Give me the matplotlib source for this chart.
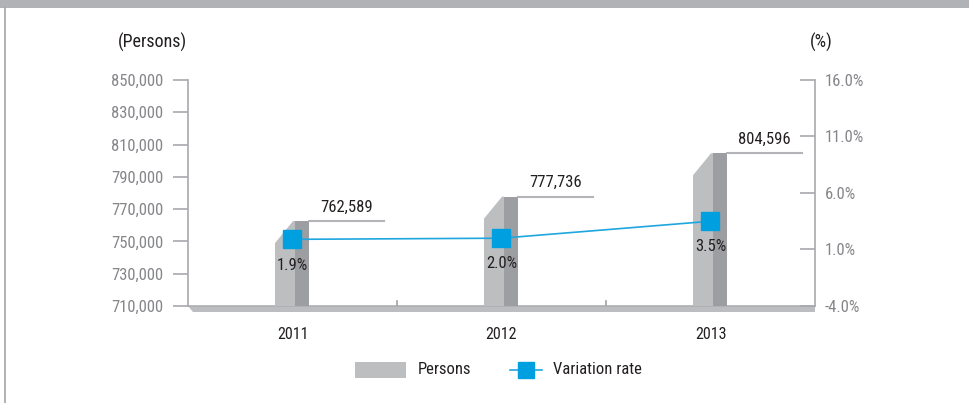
import matplotlib
matplotlib.use("Agg")
import matplotlib.pyplot as plt
from matplotlib import font_manager
from matplotlib.patches import Polygon, Rectangle
from matplotlib.lines import Line2D

# ---- data ----
years = ["2011", "2012", "2013"]
persons = [762589, 777736, 804596]
rates = [1.9, 2.0, 3.5]
left_ticks = [710000, 730000, 750000, 770000, 790000, 810000, 830000, 850000]
right_ticks = [-4.0, 1.0, 6.0, 11.0, 16.0]

# ---- font ----
font = "DejaVu Sans"
for cand in ["Liberation Sans Narrow", "DejaVu Sans Condensed", "Roboto Condensed", "Open Sans Condensed"]:
    try:
        font_manager.findfont(font_manager.FontProperties(family=cand), fallback_to_default=False)
        font = cand
        break
    except Exception:
        pass
plt.rcParams['font.family'] = [font, 'DejaVu Sans']

W, H = 969, 403
fig = plt.figure(figsize=(W / 100, H / 100), dpi=100)

def fx(px):
    return px / W

def fy(py):
    return 1 - py / H

# frame decoration
fig.patches.append(Rectangle((0, fy(8)), 1, 8 / H, transform=fig.transFigure,
                             facecolor="#b1b2b6", edgecolor="none"))
fig.lines.append(Line2D([fx(4.5), fx(4.5)], [0, fy(8)], transform=fig.transFigure,
                        color="#a3a4a8", lw=1.2))

ax = fig.add_axes([fx(188), fy(306), (815 - 188) / W, (306 - 80) / H])
ax.set_xlim(-0.5, 2.5)
ax.set_ylim(710000, 850000)
ax2 = ax.twinx()
ax2.set_ylim(-4, 16)

gray_axis = "#a8a9ad"
for a in (ax, ax2):
    for s in a.spines.values():
        s.set_visible(False)
ax.spines['left'].set_visible(True)
ax.spines['left'].set_color(gray_axis)
ax.spines['left'].set_linewidth(1.2)
ax2.spines['right'].set_visible(True)
ax2.spines['right'].set_color(gray_axis)
ax2.spines['right'].set_linewidth(1.2)

ax.set_yticks(left_ticks)
ax.set_yticklabels([f"{v:,}" for v in left_ticks])
ax.tick_params(axis='y', direction='out', length=10.8, width=1.2, color=gray_axis,
               pad=7, labelcolor="#85868a", labelsize=12)
ax2.set_yticks(right_ticks)
ax2.set_yticklabels([f"{v:.1f}%" for v in right_ticks])
ax2.tick_params(axis='y', direction='in', length=10.8, width=1.2, color=gray_axis,
                pad=7, labelcolor="#85868a", labelsize=12)
ax.set_xticks(range(len(years)))
ax.set_xticklabels(years)
ax.tick_params(axis='x', length=0, pad=15, labelcolor="#231f20", labelsize=11.5)

ppx = 1 / 209.0           # data x units per pixel
ppy = 140000 / 226.0      # data y units per pixel
base = 710000

# floor
floor = Polygon([(-0.5, base), (2.5, base), (2.5, base - 6 * ppy),
                 (-0.5 + 5 * ppx, base - 6 * ppy)], closed=True,
                facecolor="#bcbdc0", edgecolor="none", clip_on=False, zorder=1)
ax.add_patch(floor)
ax.plot([-0.5, 2.5], [base, base], color="#aeafb2", lw=1.2, clip_on=False, zorder=1.5)
for b in (0.5, 1.5):
    ax.plot([b, b], [base, base + 5 * ppy], color="#a0a1a5", lw=1.2, zorder=1.5)

# pseudo-3D bars
for i, v in enumerate(persons):
    xl = i - 17.5 * ppx
    xm = i + 2.5 * ppx
    xr = i + 16.5 * ppx
    front = Polygon([(xl, base), (xl, v - 22 * ppy), (xm - 2 * ppx, v), (xm, v), (xm, base)],
                    closed=True, facecolor="#bdbec0", edgecolor="none", zorder=2)
    side = Polygon([(xm, base), (xm, v), (xr, v), (xr, base)],
                   closed=True, facecolor="#9d9ea2", edgecolor="none", zorder=2)
    ax.add_patch(front)
    ax.add_patch(side)
    ax.plot([xr, xr + 75 * ppx], [v, v], color="#b3b4b7", lw=1.5, zorder=2)
    ax.annotate(f"{v:,}", (i + 54 * ppx, v), xytext=(0, 10), textcoords="offset points",
                ha="center", va="center", fontsize=12, color="#231f20")

# variation rate line
ax2.plot(range(len(rates)), rates, color="#1ea6df", lw=1.2, marker="s", ms=12.5,
         mfc="#00a0e0", mec="#00a0e0", zorder=5)
for i, r in enumerate(rates):
    ax2.annotate(f"{r:.1f}%", (i, r), xytext=(0, -18.5), textcoords="offset points",
                 ha="center", va="center", fontsize=12, color="#231f20", zorder=6)

# axis unit labels
fig.text(fx(152), fy(42), "(Persons)", ha="center", va="center", fontsize=13, color="#231f20")
fig.text(fx(821), fy(42), "(%)", ha="center", va="center", fontsize=13, color="#231f20")

# legend
fig.patches.append(Rectangle((fx(355), fy(378)), 51 / W, 16 / H, transform=fig.transFigure,
                             facecolor="#bdbec0", edgecolor="none"))
fig.text(fx(418), fy(370), "Persons", ha="left", va="center", fontsize=12, color="#231f20")
fig.lines.append(Line2D([fx(510), fx(542)], [fy(370), fy(370)], transform=fig.transFigure,
                        color="#1ea6df", lw=1.2))
fig.lines.append(Line2D([fx(526)], [fy(370)], transform=fig.transFigure, marker="s", ms=12,
                        mfc="#00a0e0", mec="#00a0e0", linestyle="none"))
fig.text(fx(553), fy(370), "Variation rate", ha="left", va="center", fontsize=12, color="#231f20")

fig.savefig("out.png", dpi=100)
